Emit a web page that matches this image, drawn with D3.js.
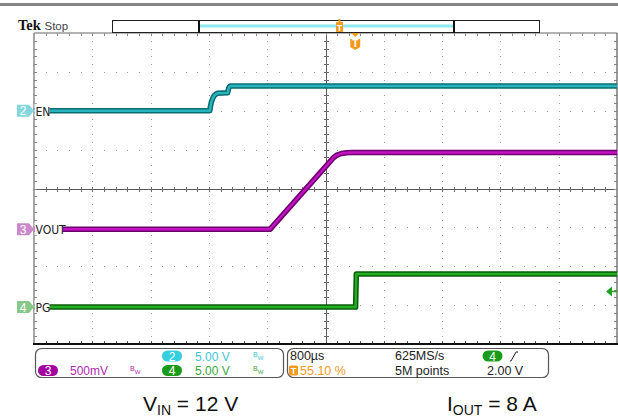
<!DOCTYPE html>
<html><head><meta charset="utf-8">
<script src="https://cdn.jsdelivr.net/npm/d3@7/dist/d3.min.js"></script>
<style>
html,body{margin:0;padding:0;background:#fff;}
svg{display:block;font-family:"Liberation Sans",Arial,sans-serif;}
</style></head>
<body>
<script>
// ---------- DATA ----------
// time in microseconds relative to trigger, voltages in volts
const enTime   = [-4408, -1995, -1988, -1975, -1955, -1935, -1910, -1890, -1750, -1742, -1730, -1715, 3592];
const enVolts  = [0, 0, 0.5, 1.1, 1.6, 1.95, 2.15, 2.25, 2.3, 2.7, 3.05, 3.18, 3.18];
const voutTime = [-4408, -1170, -346, -300, -250, -190, -120, -40, 3592];
const voutVolts= [0, 0, 0.87, 0.92, 0.955, 0.975, 0.985, 0.988, 0.988];
const pgTime   = [-4408, 5, 15, 3592];
const pgVolts  = [0, 0, 4.26, 4.26];
const channelNames = ["2", "3", "4"];
const channelLabels = ["EN", "VOUT", "PG"];
const voltsPerDiv = [5, 0.5, 5];
const scaleLabels = ["5.00 V", "500mV", "5.00 V"];
const horizLabel = "800µs";
const triggerPosLabel = "55.10 %";
const sampleRateLabel = "625MS/s";
const recordLabel = "5M points";
const triggerLevel = 2.0;
const triggerLevelLabel = "2.00 V";
const captions = [["V", "IN", " = 12 V"], ["I", "OUT", " = 8 A"]];

// ---------- LAYOUT ----------
const W = 618, H = 419;
const L = 34, R = 617, T = 33, B = 344;
const timePerDiv = 800, trigFrac = 0.551;
const t0 = -trigFrac * timePerDiv * 10;
const groundDiv = [2.0, -1.05, -3.05];

const svg = d3.select("body").append("svg").attr("width", W).attr("height", H);

const x = d3.scaleLinear().domain([t0, t0 + timePerDiv * 10]).range([L, R]);
const yDiv = d3.scaleLinear().domain([-4, 4]).range([B, T]);
const yCh = voltsPerDiv.map((vpd, i) =>
  d3.scaleLinear().domain([0, vpd]).range([yDiv(groundDiv[i]), yDiv(groundDiv[i] + 1)]));

// top gray bar
svg.append("rect").attr("x", 0).attr("y", 3).attr("width", W).attr("height", 3).attr("fill", "#858585");

// ---------- GRATICULE ----------
const g = svg.append("g");
const dx = (R - L) / 10, dy = (B - T) / 8;
const dotCol = "#9a9a9a";
for (let i = 1; i < 10; i++) {
  if (i === 5) continue;
  const xx = L + i * dx;
  for (let k = 1; k < 40; k++) {
    g.append("rect").attr("x", Math.round(xx)).attr("y", Math.round(T + k * dy / 5)).attr("width", 1).attr("height", 1).attr("fill", dotCol);
  }
}
for (let j = 1; j < 8; j++) {
  if (j === 4) continue;
  const yy = T + j * dy;
  for (let k = 1; k < 50; k++) {
    g.append("rect").attr("x", Math.round(L + k * dx / 5)).attr("y", Math.round(yy)).attr("width", 1).attr("height", 1).attr("fill", dotCol);
  }
}
// center crosshair
const cx = L + 5 * dx, cy = T + 4 * dy;
g.append("line").attr("x1", Math.round(cx) + 0.5).attr("x2", Math.round(cx) + 0.5).attr("y1", T).attr("y2", B).attr("stroke", "#5a5a5a").attr("stroke-width", 1);
g.append("line").attr("x1", L).attr("x2", R).attr("y1", Math.round(cy) + 0.5).attr("y2", Math.round(cy) + 0.5).attr("stroke", "#5a5a5a").attr("stroke-width", 1);
for (let k = 1; k < 40; k++) {
  const yy = Math.round(T + k * dy / 5) + 0.5;
  g.append("line").attr("x1", Math.round(cx) - 2).attr("x2", Math.round(cx) + 3).attr("y1", yy).attr("y2", yy).attr("stroke", "#6a6a6a");
  g.append("line").attr("x1", L).attr("x2", L + 3).attr("y1", yy).attr("y2", yy).attr("stroke", "#888");
  g.append("line").attr("x1", R - 3).attr("x2", R).attr("y1", yy).attr("y2", yy).attr("stroke", "#888");
}
for (let k = 1; k < 50; k++) {
  const xx = Math.round(L + k * dx / 5) + 0.5;
  g.append("line").attr("x1", xx).attr("x2", xx).attr("y1", Math.round(cy) - 2).attr("y2", Math.round(cy) + 3).attr("stroke", "#6a6a6a");
  g.append("line").attr("x1", xx).attr("x2", xx).attr("y1", T).attr("y2", T + 3).attr("stroke", "#888");
  g.append("line").attr("x1", xx).attr("x2", xx).attr("y1", B - 3).attr("y2", B).attr("stroke", "#555");
}
// borders
g.append("line").attr("x1", L).attr("x2", R).attr("y1", T).attr("y2", T).attr("stroke", "#999").attr("stroke-width", 1.5);
g.append("line").attr("x1", L).attr("x2", L).attr("y1", T).attr("y2", B).attr("stroke", "#888").attr("stroke-width", 1.5);
g.append("line").attr("x1", R).attr("x2", R).attr("y1", T).attr("y2", B).attr("stroke", "#777").attr("stroke-width", 1.5);
g.append("line").attr("x1", L - 1).attr("x2", R + 1).attr("y1", B).attr("y2", B).attr("stroke", "#111").attr("stroke-width", 2);

// ---------- TRACES ----------
const traces = [
  {t: enTime, v: enVolts, ch: 0, dark: "#0b6c72", light: "#27b4bd"},
  {t: voutTime, v: voutVolts, ch: 1, dark: "#6e006e", light: "#c412c4"},
  {t: pgTime, v: pgVolts, ch: 2, dark: "#0a5c0a", light: "#22b022"}
];
traces.forEach(tr => {
  const pts = tr.t.map((t, i) => [t, tr.v[i]]);
  const line = d3.line().x(d => x(d[0])).y(d => yCh[tr.ch](d[1])).curve(d3.curveLinear);
  svg.append("path").attr("d", line(pts)).attr("fill", "none").attr("stroke", tr.dark).attr("stroke-width", 5.5).attr("stroke-linejoin", "round");
  svg.append("path").attr("d", line(pts)).attr("fill", "none").attr("stroke", tr.light).attr("stroke-width", 2.4).attr("stroke-linejoin", "round");
});

// ---------- CHANNEL MARKERS ----------
const markerFill = ["#86d6de", "#cc88cc", "#86c886"];
const labelW = [15, 28, 15];
channelNames.forEach((n, i) => {
  const yy = yCh[i](0);
  svg.append("rect").attr("x", L + 0.5).attr("y", yy - 7).attr("width", labelW[i]).attr("height", 13).attr("fill", "#fff");
  svg.append("path").attr("d", `M17,${yy - 6} L29,${yy - 6} L34,${yy} L29,${yy + 6} L17,${yy + 6} Z`).attr("fill", markerFill[i]);
  svg.append("text").attr("x", 23).attr("y", yy + 4.5).attr("text-anchor", "middle").attr("font-size", 12).attr("fill", "#fff").text(n);
  svg.append("text").attr("x", L + 1.5).attr("y", yy + 5).attr("font-size", 12).attr("fill", "#222")
    .style("font-family", "'DejaVu Sans Condensed','DejaVu Sans',sans-serif").style("font-weight", "200").text(channelLabels[i]);
});
// trigger level arrow (ch4)
{
  const yy = yCh[2](triggerLevel);
  svg.append("path").attr("d", `M606,${yy} L612,${yy - 5} L612,${yy + 5} Z`).attr("fill", "#22a022");
  svg.append("line").attr("x1", 611).attr("x2", 617).attr("y1", yy).attr("y2", yy).attr("stroke", "#22a022").attr("stroke-width", 1.5);
}

// ---------- TOP STATUS ----------
svg.append("text").attr("x", 18).attr("y", 30).style("font-family", "'Liberation Serif','DejaVu Serif',serif").style("font-weight", "bold").attr("font-size", 14.5).attr("fill", "#111").text("Tek");
svg.append("text").attr("x", 44.5).attr("y", 30).attr("font-size", 11.5).attr("fill", "#444").text("Stop");
svg.append("rect").attr("x", 112.5).attr("y", 20.5).attr("width", 427).attr("height", 12).attr("fill", "#fff").attr("stroke", "#222").attr("stroke-width", 1);
svg.append("line").attr("x1", 200).attr("x2", 453).attr("y1", 26).attr("y2", 26).attr("stroke", "#8eeaee").attr("stroke-width", 3);
svg.append("line").attr("x1", 199).attr("x2", 199).attr("y1", 20).attr("y2", 33).attr("stroke", "#111").attr("stroke-width", 2);
svg.append("line").attr("x1", 454).attr("x2", 454).attr("y1", 20).attr("y2", 33).attr("stroke", "#111").attr("stroke-width", 2);
// T on record bar
const orange = "#f29a1e";
svg.append("rect").attr("x", 336).attr("y", 22).attr("width", 7).attr("height", 10).attr("rx", 1).attr("fill", orange);
svg.append("rect").attr("x", 338.5).attr("y", 19).attr("width", 2).attr("height", 3).attr("fill", orange);
svg.append("text").attr("x", 339.5).attr("y", 30.5).attr("text-anchor", "middle").attr("font-size", 9).attr("font-weight", "bold").attr("fill", "#fff").text("T");
// trigger position marker
const tx = x(0);
svg.append("path").attr("d", `M${tx - 4},33 L${tx + 4},33 L${tx},37 Z`).attr("fill", orange);
svg.append("path").attr("d", `M${tx - 5},39 L${tx + 5},39 L${tx + 5},47 L${tx},50 L${tx - 5},47 Z`).attr("fill", orange);
svg.append("text").attr("x", tx).attr("y", 47).attr("text-anchor", "middle").attr("font-size", 10).attr("font-weight", "bold").attr("fill", "#fff").text("T");

// ---------- BOTTOM PANELS ----------
svg.append("rect").attr("x", 35.5).attr("y", 348.5).attr("width", 248).attr("height", 29).attr("rx", 6).attr("fill", "#fff").attr("stroke", "#555").attr("stroke-width", 1.2);
svg.append("rect").attr("x", 287.5).attr("y", 348.5).attr("width", 261).attr("height", 29).attr("rx", 6).attr("fill", "#fff").attr("stroke", "#555").attr("stroke-width", 1.2);

function pill(cxp, cyp, fill, label) {
  svg.append("rect").attr("x", cxp - 10).attr("y", cyp - 5.5).attr("width", 20).attr("height", 11).attr("rx", 5.5).attr("fill", fill);
  svg.append("text").attr("x", cxp).attr("y", cyp + 4.5).attr("text-anchor", "middle").attr("font-size", 12).attr("fill", "#fff").text(label);
}
function bw(xp, yp, col) {
  const t = svg.append("text").attr("x", xp).attr("y", yp).attr("font-size", 7).attr("fill", col);
  t.append("tspan").text("B");
  t.append("tspan").attr("dy", 3).attr("font-size", 6).text("W");
}
const chTextCol = ["#3cc6d6", "#b22ab2", "#3aa83a"];
const chPillCol = ["#35cfe0", "#a3009f", "#1a9b1a"];
// ch2
pill(172, 356, chPillCol[0], channelNames[0]);
svg.append("text").attr("x", 195).attr("y", 361).attr("font-size", 12).attr("fill", chTextCol[0]).text(scaleLabels[0]);
bw(253, 357, chTextCol[0]);
// ch3
pill(48, 370.5, chPillCol[1], channelNames[1]);
svg.append("text").attr("x", 70).attr("y", 375).attr("font-size", 12).attr("fill", chTextCol[1]).text(scaleLabels[1]);
bw(130, 371, chTextCol[1]);
// ch4
pill(172, 370.5, chPillCol[2], channelNames[2]);
svg.append("text").attr("x", 195).attr("y", 375).attr("font-size", 12).attr("fill", chTextCol[2]).text(scaleLabels[2]);
bw(253, 371, chTextCol[2]);
// panel 2
svg.append("text").attr("x", 290).attr("y", 360).attr("font-size", 12.5).attr("fill", "#222").text(horizLabel);
svg.append("rect").attr("x", 289).attr("y", 365.5).attr("width", 9).attr("height", 10).attr("rx", 1.5).attr("fill", orange);
svg.append("text").attr("x", 293.5).attr("y", 374).attr("text-anchor", "middle").attr("font-size", 9).attr("font-weight", "bold").attr("fill", "#fff").text("T");
svg.append("text").attr("x", 300).attr("y", 375).attr("font-size", 12.5).attr("fill", orange).text(triggerPosLabel);
svg.append("text").attr("x", 395).attr("y", 360).attr("font-size", 12.5).attr("fill", "#222").text(sampleRateLabel);
svg.append("text").attr("x", 395).attr("y", 375).attr("font-size", 12.5).attr("fill", "#222").text(recordLabel);
pill(492.5, 356, chPillCol[2], channelNames[2]);
svg.append("path").attr("d", "M510,361 L511,361 L516,352 L518,352").attr("fill", "none").attr("stroke", "#222").attr("stroke-width", 1);
svg.append("text").attr("x", 487).attr("y", 375).attr("font-size", 12.5).attr("fill", "#222").text(triggerLevelLabel);

// ---------- CAPTIONS ----------
const capX = [143, 447];
captions.forEach((c, i) => {
  const t = svg.append("text").attr("x", capX[i]).attr("y", 411).attr("font-size", 21).attr("fill", "#111");
  t.append("tspan").text(c[0]);
  t.append("tspan").attr("dy", 4).attr("font-size", 14).text(c[1]);
  t.append("tspan").attr("dy", -4).text(c[2]);
});
</script>
</body></html>
